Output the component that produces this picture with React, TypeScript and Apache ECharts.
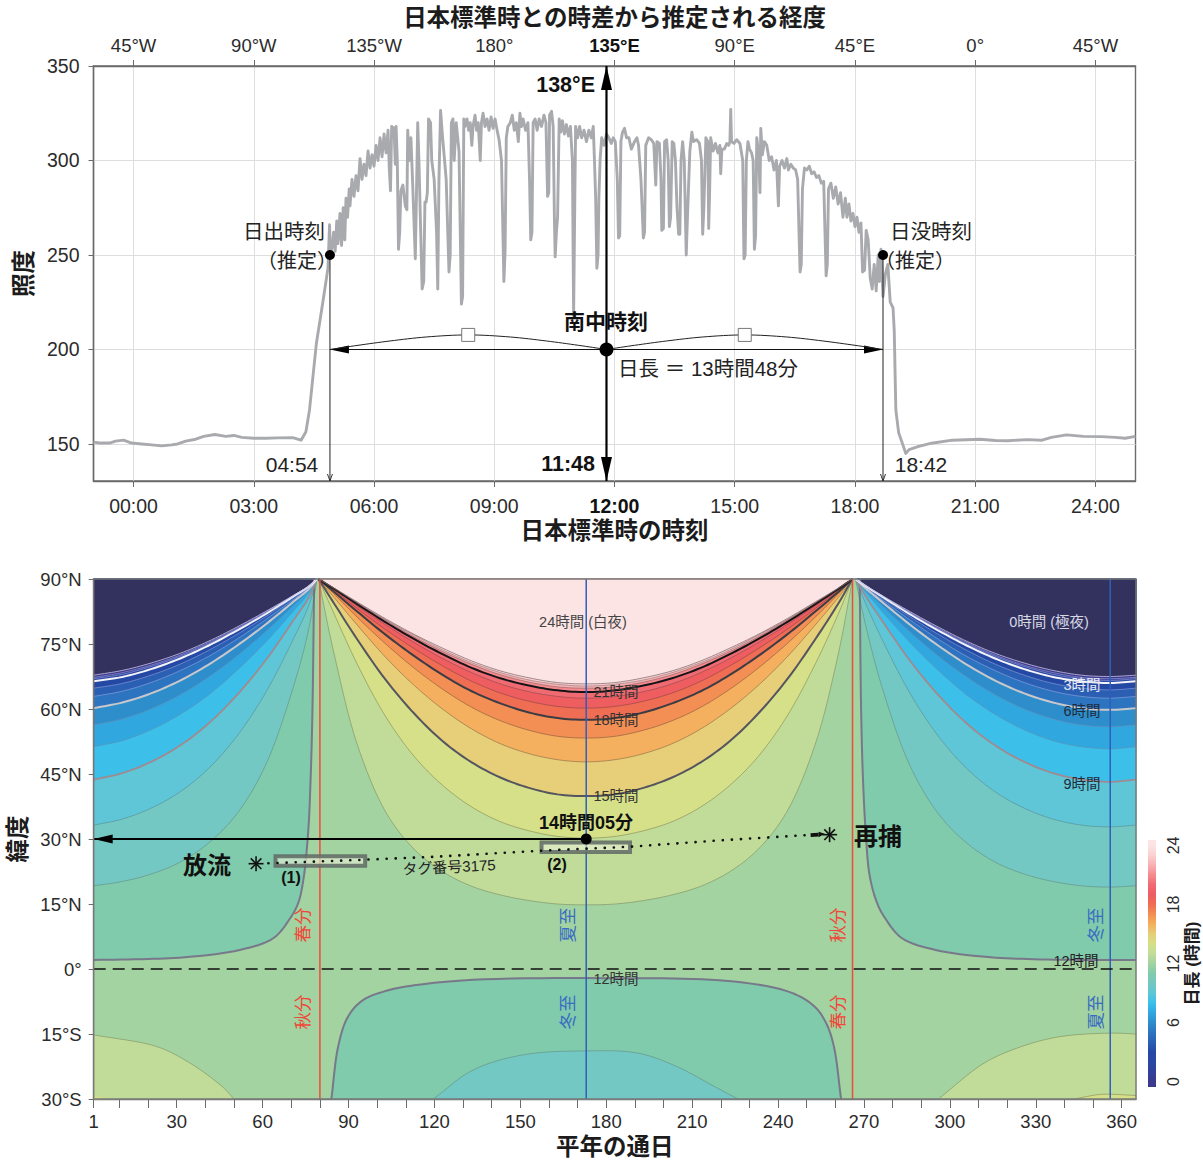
import React, { useEffect, useRef } from "react";
import * as echarts from "echarts";

const FONT = '"Liberation Sans","Noto Sans CJK JP",sans-serif';

// ---------- top panel: light level against Japan Standard Time ----------
const hourTicks = [0, 3, 6, 9, 12, 15, 18, 21, 24];
const hourLabels = ["00:00", "03:00", "06:00", "09:00", "12:00", "15:00", "18:00", "21:00", "24:00"];
const lonLabels = ["45°W", "90°W", "135°W", "180°", "135°E", "90°E", "45°E", "0°", "45°W"];
const lightTicks = [150, 200, 250, 300, 350];

const lightNightBefore = [[-1,151],[-0.85,150.5],[-0.6,150.5],[-0.45,151.5],[-0.25,152],[-0.05,150.5],[0.2,150],[0.45,149.5],[0.7,149],[0.95,149.5],[1.1,150],[1.3,151.5],[1.55,152.5],[1.75,154],[2.03,155],[2.3,154],[2.5,154.5],[2.7,153.5],[3.0,153],[3.3,153],[3.6,153.2],[3.97,153.3],[4.18,152],[4.3,156.5],[4.39,168],[4.56,203],[4.73,226],[4.85,243]];
const lightRise = [[4.89,266],[4.91,249],[4.96,255],[4.99,262],[5.03,252],[5.07,268],[5.1,256],[5.15,272],[5.19,255],[5.23,275],[5.27,258],[5.3,280],[5.34,270],[5.38,285],[5.4,276],[5.45,290],[5.5,281],[5.55,292],[5.6,284],[5.65,301],[5.7,290],[5.75,298],[5.8,292],[5.85,305],[5.9,296],[5.95,303],[6.0,297],[6.05,308],[6.1,300],[6.15,312],[6.2,302],[6.25,314],[6.3,304],[6.35,316],[6.38,296],[6.41,284],[6.44,318],[6.5,317],[6.53,298],[6.55,318],[6.58,300]];
const lightMorning = [[6.61,253],[6.64,262],[6.67,284],[6.72,287],[6.78,276],[6.82,274],[6.84,316],[6.88,300],[6.92,312],[6.96,290],[7.03,248],[7.09,320],[7.12,300],[7.2,232],[7.24,236],[7.27,278],[7.3,278],[7.33,283],[7.36,322],[7.41,320],[7.44,300],[7.5,290],[7.56,262],[7.59,232],[7.62,290],[7.66,326.5],[7.7,315],[7.74,305],[7.8,290],[7.87,241],[7.9,250],[7.93,320],[7.97,322],[8.0,300],[8.05,320],[8.12,305],[8.18,224],[8.21,228],[8.24,322],[8.27,318],[8.32,322],[8.36,316],[8.4,320],[8.44,308],[8.47,318],[8.52,324],[8.56,316],[8.6,320],[8.65,300],[8.68,320],[8.72,325],[8.77,318],[8.82,322],[8.87,316],[8.92,323],[8.97,317],[9.02,322],[9.08,315],[9.12,311],[9.18,300],[9.24,236],[9.27,252],[9.3,312],[9.34,318],[9.4,320],[9.45,324],[9.5,316],[9.55,320],[9.6,310],[9.64,325],[9.68,318],[9.72,322],[9.78,316],[9.84,320],[9.88,290],[9.91,258],[9.94,262],[9.97,320],[10.02,322],[10.07,316],[10.12,322],[10.18,318],[10.24,324],[10.29,320],[10.33,281],[10.36,283],[10.38,324],[10.43,326],[10.47,318],[10.5,270],[10.52,249],[10.55,262],[10.58,270],[10.62,322],[10.66,315],[10.7,321],[10.75,314],[10.8,319],[10.85,313],[10.9,318],[10.95,300],[10.98,218],[11.01,280],[11.03,318],[11.08,312],[11.13,318],[11.18,312],[11.24,316],[11.3,310],[11.36,316],[11.42,312],[11.47,318],[11.5,300],[11.53,280],[11.56,243],[11.59,250],[11.61,280],[11.64,300],[11.68,312],[11.74,308],[11.8,314],[11.86,312],[11.92,309],[11.97,312]];
const lightAfternoon = [[12.02,310],[12.07,290],[12.1,259],[12.13,260],[12.16,310],[12.2,315],[12.25,317],[12.3,312],[12.36,312],[12.42,306],[12.5,310],[12.56,312],[12.6,308],[12.66,290],[12.72,259],[12.75,262],[12.78,308],[12.85,312],[12.92,311],[12.98,309],[13.03,287],[13.06,310],[13.12,309],[13.16,290],[13.18,263],[13.22,264],[13.25,310],[13.3,311],[13.34,300],[13.37,265],[13.4,270],[13.44,310],[13.48,309],[13.52,300],[13.56,275],[13.6,261],[13.63,261],[13.66,300],[13.7,310],[13.74,300],[13.79,250],[13.82,270],[13.88,305],[13.93,315],[13.97,310],[14.05,311],[14.12,309],[14.17,300],[14.2,261],[14.23,275],[14.28,312],[14.33,310],[14.35,264],[14.37,280],[14.4,312],[14.46,305],[14.52,309],[14.58,304],[14.63,308],[14.65,293],[14.68,306],[14.74,306],[14.8,309],[14.85,308],[14.88,310],[14.9,327],[14.92,310],[14.98,309],[15.05,311],[15.13,309],[15.2,300],[15.23,248],[15.26,250],[15.29,300],[15.33,310],[15.37,306],[15.42,304],[15.46,300],[15.49,253],[15.52,260],[15.55,312],[15.6,303],[15.63,283],[15.65,317],[15.69,303],[15.74,310],[15.8,308],[15.86,300],[15.92,302],[15.98,295],[16.04,300],[16.09,276],[16.12,297],[16.18,300],[16.24,296],[16.3,301],[16.34,295],[16.4,298],[16.46,296],[16.52,295],[16.57,290],[16.63,241],[16.66,245],[16.69,285],[16.74,296],[16.8,295],[16.86,297],[16.92,293],[16.98,294],[17.04,291],[17.1,292],[17.16,288],[17.22,289],[17.28,239],[17.31,245],[17.34,285],[17.4,288],[17.46,280],[17.52,286],[17.58,277],[17.64,283],[17.7,270],[17.76,280],[17.8,270],[17.85,277],[17.9,268],[17.95,272],[18.0,265],[18.05,270],[18.1,262],[18.15,267],[18.19,241],[18.24,242],[18.28,263],[18.33,258],[18.38,238],[18.43,232],[18.48,245],[18.53,231],[18.58,250],[18.61,236],[18.65,253],[18.7,228],[18.76,240],[18.82,245],[18.88,225],[18.95,222],[18.98,210]];
const lightNightAfter = [[19.02,168],[19.09,156],[19.27,145],[19.35,147],[19.57,148.6],[19.91,150.4],[20.43,152],[21.12,152.5],[21.5,151.8],[21.81,151.7],[22.3,152.3],[22.67,152],[22.9,153.5],[23.28,154.8],[23.7,154],[24.14,153.9],[24.5,153.5],[24.74,153],[25,154]];

const sunriseHour = 4.9;
const noonHour = 11.8;
const sunsetHour = 18.7;
const sunLight = 250;
const noonLight = 200;
const arcLeftHours = [4.9, 5.6, 6.4, 7.3, 8.35, 9.4, 10.3, 11.1, 11.8];
const arcRightHours = [11.8, 12.5, 13.3, 14.2, 15.25, 16.3, 17.2, 18.0, 18.7];
const arcLight = [200, 202.2, 204.5, 206.6, 207.7, 206.6, 204.5, 202.2, 200];

// ---------- bottom panel: day length contours, latitude against day of year ----------
const dayLabelTicks = [1, 30, 60, 90, 120, 150, 180, 210, 240, 270, 300, 330, 360];
const dayMinorTicks = [1, 10, 20, 30, 40, 50, 60, 70, 80, 90, 100, 110, 120, 130, 140, 150, 160, 170, 180, 190, 200, 210, 220, 230, 240, 250, 260, 270, 280, 290, 300, 310, 320, 330, 340, 350, 360];
const latLabels: Record<number, string> = { 90: "90°N", 75: "75°N", 60: "60°N", 45: "45°N", 30: "30°N", 15: "15°N", 0: "0°", [-15]: "15°S", [-30]: "30°S" };

// colour of the band that starts at each whole hour, plus the 24 h cap
const bandColors = ["#3b3a8c", "#31409a", "#2947a3", "#2449a5", "#2a5fb3", "#2d74c0", "#2e8ecb", "#31a7e0", "#3cc0ea", "#5ec6d6", "#74c8c3", "#80cbab", "#a2d3a0", "#c1dc98", "#d5e088", "#e6cf78", "#f4b05e", "#f38f55", "#ef6d52", "#ee5d60", "#f06a72", "#f58a8e", "#f8b0b2", "#fbd0d0", "#fce4e5"];
const polarNightColor = "#33325f";

// days read along the summer arcs, from the June solstice outward
const summerLeftDays = [173, 163, 153, 143, 133, 123, 113, 103, 93, 85];
const summerRightDays = [173, 183, 193, 203, 213, 223, 233, 243, 253, 261];
const summerStartDay = 79.5;
const summerEndDay = 266;

const day13 = [14.8, 15, 15.8, 17.1, 19.1, 22.4, 27.6, 36.2, 51.9, 72.6];
const day14 = [30.2, 30.6, 31.9, 34, 37.4, 42.3, 49, 58.2, 70.4, 81.9];
const day15 = [39.9, 40.3, 41.8, 44.2, 47.7, 52.5, 58.9, 66.7, 76.1, 84.3];
const day16 = [47.8, 48.3, 49.7, 52, 55.4, 59.9, 65.4, 71.9, 79.4, 85.7];
const day17 = [53.3, 53.7, 55.1, 57.3, 60.4, 64.5, 69.4, 75, 81.2, 86.5];
const day18 = [57.5, 57.9, 59.2, 61.3, 64.1, 67.8, 72.2, 77.1, 82.5, 87];
const day19 = [60.2, 60.6, 61.8, 63.7, 66.4, 69.9, 73.9, 78.3, 83.2, 87.3];
const day20 = [62.5, 62.9, 64, 65.8, 68.4, 71.6, 75.3, 79.4, 83.8, 87.5];
const day21 = [63.9, 64.3, 65.4, 67.1, 69.5, 72.6, 76.1, 80, 84.2, 87.7];
const day22 = [64.8, 65.1, 66.2, 67.9, 70.3, 73.2, 76.6, 80.4, 84.4, 87.8];
const day23 = [65.3, 65.7, 66.7, 68.4, 70.7, 73.6, 77, 80.6, 84.6, 87.8];
const day24 = [65.8, 66.1, 67.2, 68.8, 71.1, 74, 77.2, 80.8, 84.7, 87.9];
const summerRows = [day13, day14, day15, day16, day17, day18, day19, day20, day21, day22, day23, day24];

// days read along the winter arcs, from the December solstice outward
const winterRightDays = [356, 346, 336, 326, 316, 306, 296, 286, 276, 271];
const winterLeftDays = [null, 1, 11, 21, 31, 41, 51, 61, 71, 76];
const winterLeftApex = 79;
const winterRightApex = 267;

const night11 = [18.9, 19.2, 20.2, 21.9, 24.6, 29, 35.8, 47, 65.7, 78.2];
const night10 = [32.8, 33.2, 34.6, 37.1, 40.8, 46.2, 53.7, 63.7, 76.5, 83.7];
const night9 = [43.2, 43.7, 45.2, 47.8, 51.5, 56.6, 63.2, 71.2, 80.7, 85.6];
const night8 = [50.8, 51.3, 52.7, 55.2, 58.7, 63.2, 68.9, 75.4, 82.8, 86.7];
const night7 = [55.9, 56.3, 57.7, 60, 63.2, 67.3, 72.2, 77.8, 84, 87.2];
const night6 = [59.8, 60.2, 61.5, 63.6, 66.5, 70.2, 74.6, 79.5, 84.9, 87.6];
const night5 = [62.5, 62.9, 64.1, 66.1, 68.8, 72.1, 76.1, 80.6, 85.4, 87.9];
const night4 = [64.4, 64.8, 65.9, 67.8, 70.3, 73.5, 77.2, 81.3, 85.8, 88];
const night3 = [66, 66.4, 67.4, 69.2, 71.6, 74.6, 78.1, 81.9, 86.1, 88.2];
const night2 = [66.6, 67, 68, 69.8, 72.1, 75, 78.4, 82.1, 86.2, 88.2];
const night1 = [67, 67.3, 68.4, 70.1, 72.4, 75.3, 78.6, 82.3, 86.3, 88.3];
const night0 = [67.5, 67.8, 68.9, 70.6, 72.8, 75.6, 78.9, 82.5, 86.3, 88.3];
const winterRows = [night11, night10, night9, night8, night7, night6, night5, night4, night3, night2, night1, night0];

// the 12 hour contour and the southern pieces were read point by point
const twelveLeft = [[1,2.1],[20,2.3],[34.6,2.8],[52,4.4],[63.7,7.1],[69.6,11.7],[72.4,15.2],[74.2,20.5],[75.9,31.6],[76.8,44.8],[77.4,60],[78,90]];
const twelveRight = [[268.5,90],[269,60],[269.6,44.8],[270.6,31.6],[272,21.5],[274.6,15.2],[277.4,11.7],[283.3,7.1],[295,4.4],[312.4,2.8],[327,2.3],[346,2.1],[365,2.1]];
const twelveSouth = [[84,-30],[86.4,-17.8],[89.8,-11],[95,-7.2],[104.5,-4.8],[116,-3.5],[133.5,-2.5],[173,-2.1],[224.7,-2.9],[244.8,-5.5],[252.8,-8.7],[256.8,-12.5],[259.5,-17.9],[262,-30]];
const elevenSouth = [[119.6,-30],[133.5,-23.3],[151,-19.8],[173,-18.9],[191,-19.4],[204.6,-22.5],[218,-27.2],[226,-30]];
const thirteenSouthLeft = [[1,-15.2],[23,-17.9],[34.6,-21.7],[46,-27.2],[50,-30]];
const thirteenSouthRight = [[296,-30],[312,-21.7],[325,-17.9],[338.5,-15.6],[356,-14.8],[365,-15]];
const fourteenSouthLeft = [[1,-29.4],[8,-30]];
const fourteenSouthRight = [[343.5,-30],[351.7,-29],[356,-28.9],[365,-29.2]];

const equinoxDays = [80, 266];
const solsticeDays = [173, 356];
const trackLine = [[62,24.4],[95,25.2],[120,25.9],[160,27.4],[188,28.2],[220,29.7],[250,30.9]];
const tagBoxes = [[64.5,95.8,23.8,26],[157.4,188.3,27,29.2]];
const pointDay = 173;
const pointLat = 30;
const releaseMark = [57.7, 24.3];
const recaptureMark = [258, 31];
const arrowEndDay = 1;

const colorbarTicks = [0, 6, 12, 18, 24];

function lineStyleFor(level: number) {
  const map: Record<number, [string, number]> = {
    3: ["#f3f3f8", 2], 6: ["#c8c8cc", 2], 9: ["#a08a90", 1.8], 12: ["#77788a", 2], 15: ["#55555f", 2], 18: ["#3c3c44", 2], 21: ["#151518", 2],
    0: ["rgba(200,195,235,0.8)", 1], 1: ["rgba(190,190,240,0.6)", 0.8], 2: ["rgba(190,190,240,0.6)", 0.8], 4: ["rgba(180,190,235,0.6)", 0.8], 5: ["rgba(180,190,235,0.6)", 0.8],
    7: ["rgba(120,150,180,0.6)", 0.8], 8: ["rgba(110,140,160,0.6)", 0.8], 10: ["rgba(90,110,110,0.5)", 0.8], 11: ["rgba(90,110,100,0.5)", 0.8],
    13: ["rgba(90,100,70,0.5)", 0.8], 14: ["rgba(90,90,60,0.5)", 0.8], 16: ["rgba(90,80,60,0.55)", 0.8], 17: ["rgba(90,70,50,0.55)", 0.8],
    19: ["rgba(100,60,60,0.55)", 0.8], 20: ["rgba(100,60,60,0.55)", 0.8], 22: ["rgba(100,70,70,0.6)", 0.8], 23: ["rgba(110,90,90,0.6)", 0.8], 24: ["rgba(120,100,105,0.7)", 1],
  };
  return map[level];
}

function summerCurve(row: number[]) {
  const left = summerLeftDays.map((d, i) => [d, row[i]]).reverse();
  const right = summerRightDays.map((d, i) => [d, row[i]]).slice(1);
  return [[summerStartDay, 90], ...left, ...right, [summerEndDay, 90]];
}
function winterLeftCurve(row: number[]) {
  const pts: number[][] = [];
  winterLeftDays.forEach((d, i) => { if (d !== null) pts.push([d, row[i]]); });
  pts.push([winterLeftApex, 90]);
  return pts;
}
function winterRightCurve(row: number[]) {
  const pts: number[][] = [[winterRightApex, 90]];
  for (let i = winterRightDays.length - 1; i >= 0; i--) pts.push([winterRightDays[i], row[i]]);
  pts.push([365, row[1]]);
  return pts;
}

// rounds a drawn contour through its read points, as a line's smooth option would
function rounded(P: number[][]) {
  if (P.length < 3) return P;
  const out: number[][] = [P[0]];
  const dist = (a: number[], b: number[]) => Math.max(1e-3, Math.sqrt(Math.hypot(a[0] - b[0], a[1] - b[1])));
  const mix = (a: number[], b: number[], ta: number, tb: number, t: number) => [
    ((tb - t) / (tb - ta)) * a[0] + ((t - ta) / (tb - ta)) * b[0],
    ((tb - t) / (tb - ta)) * a[1] + ((t - ta) / (tb - ta)) * b[1],
  ];
  for (let i = 0; i < P.length - 1; i++) {
    const p1 = P[i], p2 = P[i + 1];
    const p0 = P[i - 1] || [2 * p1[0] - p2[0], 2 * p1[1] - p2[1]];
    const p3 = P[i + 2] || [2 * p2[0] - p1[0], 2 * p2[1] - p1[1]];
    const t0 = 0, t1 = t0 + dist(p0, p1), t2 = t1 + dist(p1, p2), t3 = t2 + dist(p2, p3);
    for (let k = 1; k <= 8; k++) {
      const t = t1 + ((t2 - t1) * k) / 8;
      const a1 = mix(p0, p1, t0, t1, t), a2 = mix(p1, p2, t1, t2, t), a3 = mix(p2, p3, t2, t3, t);
      const b1 = mix(a1, a2, t0, t2, t), b2 = mix(a2, a3, t1, t3, t);
      out.push(mix(b1, b2, t1, t2, t));
    }
  }
  return out;
}

type Fill = { color: string; curve: number[][]; close?: number[][] };
type Stroke = { level: number; pts: number[][] };
const fills: Fill[] = [{ color: bandColors[12], curve: [[1, 90], [365, 90]], close: [[365, -30], [1, -30]] }];
const strokes: Stroke[] = [];

summerRows.forEach((row, i) => {
  const level = 13 + i;
  const c = summerCurve(row);
  fills.push({ color: bandColors[level], curve: c });
  strokes.push({ level, pts: c });
});
fills.push({ color: bandColors[13], curve: thirteenSouthLeft, close: [[1, -30]] }, { color: bandColors[13], curve: thirteenSouthRight, close: [[365, -30]] });
fills.push({ color: bandColors[14], curve: fourteenSouthLeft, close: [[1, -30]] }, { color: bandColors[14], curve: fourteenSouthRight, close: [[365, -30]] });
strokes.push({ level: 13, pts: thirteenSouthLeft }, { level: 13, pts: thirteenSouthRight });
strokes.push({ level: 14, pts: fourteenSouthRight });
fills.push({ color: bandColors[11], curve: twelveLeft, close: [[1, 90]] });
fills.push({ color: bandColors[11], curve: twelveRight, close: [[365, 90]] });
fills.push({ color: bandColors[11], curve: twelveSouth });
fills.push({ color: bandColors[10], curve: elevenSouth });
strokes.push({ level: 12, pts: twelveLeft }, { level: 12, pts: twelveRight }, { level: 12, pts: twelveSouth }, { level: 11, pts: elevenSouth });
winterRows.forEach((row, i) => {
  const level = 11 - i;
  const l = winterLeftCurve(row);
  const r = winterRightCurve(row);
  const color = level === 0 ? polarNightColor : bandColors[level - 1];
  fills.push({ color, curve: l, close: [[1, 90]] }, { color, curve: r, close: [[365, 90]] });
  strokes.push({ level, pts: l }, { level, pts: r });
});

function App() {
  const ref = useRef<HTMLDivElement>(null);
  useEffect(() => {
    const chart = echarts.init(ref.current!, undefined, { renderer: "svg" });
    const axisColor = "#6b6b6b";
    const labelColor = "#2b2b2b";
    const nameStyle = { fontFamily: FONT, fontWeight: "bold", fontSize: 23.5, color: "#1c1c1c" };

    const txt = (text: string, x: number, y: number, size: number, o: any = {}) => ({
      type: "text", x, y, z: 100, rotation: o.rot || 0, silent: true,
      style: { text, fontFamily: FONT, fontSize: size, fontWeight: o.bold ? "bold" : "normal", fill: o.color || "#232323", textAlign: o.align || "center", textVerticalAlign: "middle" },
    });

    const star = (p: number[], r: number) => {
      const out: any[] = [];
      [[1, 0], [0, 1], [0.71, 0.71], [0.71, -0.71]].forEach(([a, b]) => {
        out.push({ type: "line", shape: { x1: p[0] - a * r, y1: p[1] - b * r, x2: p[0] + a * r, y2: p[1] + b * r }, style: { stroke: "#111", lineWidth: 1.6 } });
      });
      return out;
    };
    const poly = (points: number[][], fill: string) => ({ type: "polygon", shape: { points }, style: { fill } });
    const seg = (a: number[], b: number[], stroke: string, lineWidth: number) => ({ type: "line", shape: { x1: a[0], y1: a[1], x2: b[0], y2: b[1] }, style: { stroke, lineWidth } });
    const dot = (p: number[], r: number) => ({ type: "circle", shape: { cx: p[0], cy: p[1], r }, style: { fill: "#000" } });

    const topMarks = (_p: any, api: any) => {
      const c = (x: number, y: number) => api.coord([x, y]);
      const kids: any[] = [];
      const nTop = c(noonHour, 350), nBot = c(noonHour, 130.4), nMid = c(noonHour, noonLight);
      const sr = c(sunriseHour, sunLight), srB = c(sunriseHour, 130.4), srM = c(sunriseHour, noonLight);
      const ss = c(sunsetHour, sunLight), ssB = c(sunsetHour, 130.4), ssM = c(sunsetHour, noonLight);
      kids.push(seg(nTop, nBot, "#000", 2.2), seg(sr, srB, "#222", 1), seg(ss, ssB, "#222", 1), seg(srM, ssM, "#111", 1.1));
      kids.push(poly([[nTop[0], nTop[1]], [nTop[0] - 5.5, nTop[1] + 24], [nTop[0] + 5.5, nTop[1] + 24]], "#000"));
      kids.push(poly([[nBot[0], nBot[1]], [nBot[0] - 5.5, nBot[1] - 24], [nBot[0] + 5.5, nBot[1] - 24]], "#000"));
      [srB, ssB].forEach((b) => {
        kids.push(seg(b, [b[0] - 2.5, b[1] - 7], "#222", 0.9), seg(b, [b[0] + 2.5, b[1] - 7], "#222", 0.9));
      });
      kids.push(poly([[srM[0], srM[1]], [srM[0] + 19, srM[1] - 4], [srM[0] + 19, srM[1] + 4]], "#000"));
      kids.push(poly([[ssM[0], ssM[1]], [ssM[0] - 19, ssM[1] - 4], [ssM[0] - 19, ssM[1] + 4]], "#000"));
      [arcLeftHours, arcRightHours].forEach((hours) => {
        const pts = hours.map((h, i) => c(h, arcLight[i]));
        kids.push({ type: "polyline", shape: { points: rounded(pts) }, style: { stroke: "#222", lineWidth: 1, fill: "none" } });
        const m = pts[4];
        kids.push({ type: "rect", shape: { x: m[0] - 6.5, y: m[1] - 6.5, width: 13, height: 13 }, style: { fill: "#fff", stroke: "#777", lineWidth: 1 } });
      });
      kids.push(dot(sr, 5), dot(ss, 5), dot(nMid, 7));
      return { type: "group", children: kids };
    };

    const bottomFill = (p: any, api: any) => {
      const f = fills[p.dataIndex];
      const points = [...rounded(f.curve.map((q) => api.coord(q))), ...(f.close || []).map((q) => api.coord(q))];
      return { type: "polygon", shape: { points }, style: { fill: f.color, stroke: f.color, lineWidth: 0.4 } };
    };
    const bottomStroke = (p: any, api: any) => {
      const s = strokes[p.dataIndex];
      const [stroke, lineWidth] = lineStyleFor(s.level);
      return { type: "polyline", shape: { points: rounded(s.pts.map((q) => api.coord(q))) }, style: { stroke, lineWidth, fill: "none", lineJoin: "round" } };
    };
    const bottomMarks = (_p: any, api: any) => {
      const c = (x: number, y: number) => api.coord([x, y]);
      const kids: any[] = [];
      equinoxDays.forEach((d) => kids.push(seg(c(d, 90), c(d, -30), "#ef4b3c", 1.5)));
      solsticeDays.forEach((d) => kids.push(seg(c(d, 90), c(d, -30), "#2f5fbd", 1.5)));
      kids.push({ type: "line", shape: { x1: c(1, 0)[0], y1: c(1, 0)[1], x2: c(365, 0)[0], y2: c(365, 0)[1] }, style: { stroke: "#111", lineWidth: 1.4, lineDash: [12, 7] } });
      tagBoxes.forEach((b) => {
        const a = c(b[0], b[3]), e = c(b[1], b[2]);
        kids.push({ type: "rect", shape: { x: a[0], y: a[1], width: e[0] - a[0], height: e[1] - a[1] }, style: { fill: "rgba(235,240,215,0.6)", stroke: "rgba(95,105,100,0.85)", lineWidth: 4 } });
      });
      kids.push({ type: "polyline", shape: { points: trackLine.map((q) => api.coord(q)) }, style: { stroke: "#111", lineWidth: 2.6, lineDash: [0.1, 9], lineCap: "round", fill: "none" } });
      const pt = c(pointDay, pointLat), end = c(arrowEndDay, pointLat);
      kids.push(seg(pt, end, "#000", 2));
      kids.push(poly([[end[0], end[1]], [end[0] + 19, end[1] - 4.5], [end[0] + 19, end[1] + 4.5]], "#000"));
      kids.push(dot(pt, 5.5));
      const rel = c(releaseMark[0], releaseMark[1]), rec = c(recaptureMark[0], recaptureMark[1]);
      kids.push(...star(rel, 7.5), ...star(rec, 7.5));
      kids.push(seg([rec[0] - 19, rec[1] + 0.5], [rec[0] - 11, rec[1]], "#111", 3.6));
      kids.push(poly([[rec[0] - 5, rec[1] - 1], [rec[0] - 11, rec[1] - 3], [rec[0] - 11, rec[1] + 2.5]], "#111"));
      const tl = c(1, 90), br = c(365, -30);
      kids.push({ type: "rect", shape: { x: tl[0], y: tl[1], width: br[0] - tl[0], height: br[1] - tl[1] }, style: { fill: "none", stroke: "#777", lineWidth: 1.4 } });
      return { type: "group", children: kids };
    };
    const colorbar = (_p: any, api: any) => {
      const a = api.coord([0, 24.55]), b = api.coord([1, -0.55]);
      const stops = bandColors.map((color, i) => ({ offset: (i + 0.55) / 25.1, color }));
      return { type: "rect", shape: { x: a[0], y: a[1], width: b[0] - a[0], height: b[1] - a[1] }, style: { fill: new echarts.graphic.LinearGradient(0, 1, 0, 0, stops) } };
    };

    const one = [[0, 0]];
    const option: any = {
      animation: false,
      backgroundColor: "#fff",
      textStyle: { fontFamily: FONT },
      grid: [
        { left: 93.5, width: 1042, top: 66, height: 415, show: true, borderColor: axisColor, borderWidth: 1.4, outerBoundsMode: "none" },
        { left: 93.7, width: 1042.3, top: 579, height: 520, outerBoundsMode: "none" },
        { left: 1148, width: 8, top: 840, height: 247, outerBoundsMode: "none" },
      ],
      xAxis: [
        {
          gridIndex: 0, type: "value", min: -1, max: 25, position: "bottom",
          name: "日本標準時の時刻", nameLocation: "middle", nameGap: 38, nameTextStyle: nameStyle,
          axisLine: { onZero: false, lineStyle: { color: axisColor, width: 1.4 } },
          axisTick: { customValues: hourTicks, length: 6, lineStyle: { color: axisColor } },
          splitLine: { show: true, lineStyle: { color: "#dedede", width: 1 } },
          axisLabel: {
            customValues: hourTicks, margin: 15, fontFamily: FONT, fontSize: 19.5, color: labelColor,
            formatter: (v: number) => { const s = hourLabels[hourTicks.indexOf(v)]; return v === 12 ? `{b|${s}}` : s; },
            rich: { b: { fontFamily: FONT, fontSize: 19.5, fontWeight: "bold", color: "#111" } },
          },
        },
        {
          gridIndex: 0, type: "value", min: -1, max: 25, position: "top",
          name: "日本標準時との時差から推定される経度", nameLocation: "middle", nameGap: 36, nameTextStyle: nameStyle,
          axisLine: { onZero: false, lineStyle: { color: axisColor, width: 1.4 } },
          axisTick: { customValues: hourTicks, length: 6, lineStyle: { color: axisColor } },
          splitLine: { show: false },
          axisLabel: {
            customValues: hourTicks, margin: 11, fontFamily: FONT, fontSize: 18.5, color: labelColor,
            formatter: (v: number) => { const s = lonLabels[hourTicks.indexOf(v)]; return v === 12 ? `{b|${s}}` : s; },
            rich: { b: { fontFamily: FONT, fontSize: 18.5, fontWeight: "bold", color: "#111" } },
          },
        },
        {
          gridIndex: 1, type: "value", min: 1, max: 365, position: "bottom",
          name: "平年の通日", nameLocation: "middle", nameGap: 36, nameTextStyle: nameStyle,
          axisLine: { onZero: false, lineStyle: { color: axisColor, width: 1.4 } },
          axisTick: { customValues: dayMinorTicks, length: 9, lineStyle: { color: axisColor } },
          splitLine: { show: false },
          axisLabel: { customValues: dayLabelTicks, margin: 13, fontFamily: FONT, fontSize: 18.5, color: labelColor },
        },
        { gridIndex: 2, type: "value", min: 0, max: 1, show: false },
      ],
      yAxis: [
        {
          gridIndex: 0, type: "value", min: 130.4, max: 350,
          name: "照度", nameLocation: "middle", nameGap: 48, nameRotate: 90, nameTextStyle: nameStyle,
          axisLine: { onZero: false, lineStyle: { color: axisColor, width: 1.4 } },
          axisTick: { customValues: lightTicks, length: 5, lineStyle: { color: axisColor } },
          splitLine: { show: true, lineStyle: { color: "#dedede", width: 1 } },
          axisLabel: { customValues: lightTicks, margin: 14, fontFamily: FONT, fontSize: 19.5, color: labelColor },
        },
        {
          gridIndex: 1, type: "value", min: -30, max: 90, interval: 15,
          name: "緯度", nameLocation: "middle", nameGap: 60, nameRotate: 90, nameTextStyle: nameStyle,
          axisLine: { onZero: false, lineStyle: { color: axisColor, width: 1.4 } },
          axisTick: { length: 5, lineStyle: { color: axisColor } },
          splitLine: { show: false },
          axisLabel: { margin: 12, fontFamily: FONT, fontSize: 18.5, color: labelColor, formatter: (v: number) => latLabels[v] },
        },
        {
          gridIndex: 2, type: "value", min: -0.55, max: 24.55, position: "right",
          name: "日長 (時間)", nameLocation: "middle", nameGap: 28, nameRotate: 90,
          nameTextStyle: { fontFamily: FONT, fontWeight: "bold", fontSize: 17, color: "#1c1c1c" },
          axisLine: { show: false },
          axisTick: { show: false, customValues: colorbarTicks },
          splitLine: { show: false },
          axisLabel: { customValues: colorbarTicks, rotate: 90, margin: 9, fontFamily: FONT, fontSize: 16, color: labelColor },
        },
      ],
      series: [
        {
          type: "line", xAxisIndex: 0, yAxisIndex: 0, showSymbol: false, silent: true, clip: true,
          data: [...lightNightBefore, ...lightRise, ...lightMorning, ...lightAfternoon, ...lightNightAfter],
          lineStyle: { color: "#a9aaae", width: 2.9, join: "round" },
        },
        { type: "custom", xAxisIndex: 0, yAxisIndex: 0, silent: true, z: 5, data: one, renderItem: topMarks },
        { type: "custom", xAxisIndex: 2, yAxisIndex: 1, silent: true, z: 2, data: fills.map((_, i) => [i, 0]), renderItem: bottomFill },
        { type: "custom", xAxisIndex: 2, yAxisIndex: 1, silent: true, z: 3, data: strokes.map((_, i) => [i, 0]), renderItem: bottomStroke },
        { type: "custom", xAxisIndex: 2, yAxisIndex: 1, silent: true, z: 4, data: one, renderItem: bottomMarks },
        { type: "custom", xAxisIndex: 3, yAxisIndex: 2, silent: true, data: one, renderItem: colorbar },
      ],
      graphic: [
        txt("138°E", 595, 85, 21.5, { bold: true, align: "right", color: "#111" }),
        txt("11:48", 595, 464, 21.5, { bold: true, align: "right", color: "#111" }),
        txt("南中時刻", 606, 321, 21, { bold: true, color: "#111" }),
        txt("日長 ＝ 13時間48分", 618, 368, 20.5, { align: "left" }),
        txt("日出時刻", 284, 231, 20.5),
        txt("（推定）", 297, 261, 20),
        txt("日没時刻", 931, 231, 20.5),
        txt("（推定）", 915, 261, 20),
        txt("04:54", 292, 464, 21),
        txt("18:42", 921, 464, 21),
        txt("24時間 (白夜)", 583, 622, 14.5, { color: "#444" }),
        txt("0時間 (極夜)", 1049, 622, 14.5, { color: "#d8d8e4" }),
        txt("21時間", 616, 692, 14.5, { color: "#333" }),
        txt("18時間", 616, 720, 14.5, { color: "#333" }),
        txt("15時間", 616, 796, 14.5, { color: "#333" }),
        txt("12時間", 616, 979, 14.5, { color: "#333" }),
        txt("3時間", 1082, 685, 14.5, { color: "#e8e8f0" }),
        txt("6時間", 1082, 711, 14.5, { color: "#1f2c3c" }),
        txt("9時間", 1082, 784, 14.5, { color: "#1f2c3c" }),
        txt("12時間", 1076, 961, 14.5, { color: "#222" }),
        txt("14時間05分", 586, 823, 18, { bold: true, color: "#111" }),
        txt("放流", 207, 865, 24, { bold: true, color: "#111" }),
        txt("再捕", 878, 836, 24, { bold: true, color: "#111" }),
        txt("タグ番号3175", 449, 867, 15, { rot: 0.05, color: "#222" }),
        txt("(1)", 291, 877, 16, { bold: true, color: "#111" }),
        txt("(2)", 557, 864, 16, { bold: true, color: "#111" }),
        txt("春分", 303, 925, 17.5, { rot: Math.PI / 2, color: "#f0473a" }),
        txt("秋分", 303, 1012, 17.5, { rot: Math.PI / 2, color: "#f0473a" }),
        txt("夏至", 568, 925, 17.5, { rot: Math.PI / 2, color: "#3a6cc2" }),
        txt("冬至", 568, 1012, 17.5, { rot: Math.PI / 2, color: "#3a6cc2" }),
        txt("秋分", 838, 925, 17.5, { rot: Math.PI / 2, color: "#f0473a" }),
        txt("春分", 838, 1012, 17.5, { rot: Math.PI / 2, color: "#f0473a" }),
        txt("冬至", 1096, 925, 17.5, { rot: Math.PI / 2, color: "#3a6cc2" }),
        txt("夏至", 1096, 1012, 17.5, { rot: Math.PI / 2, color: "#3a6cc2" }),
      ],
    };
    chart.setOption(option);
    return () => chart.dispose();
  }, []);
  return <div ref={ref} style={{ position: "absolute", left: 0, top: 0, width: 1203, height: 1160 }} />;
}

export default App;
